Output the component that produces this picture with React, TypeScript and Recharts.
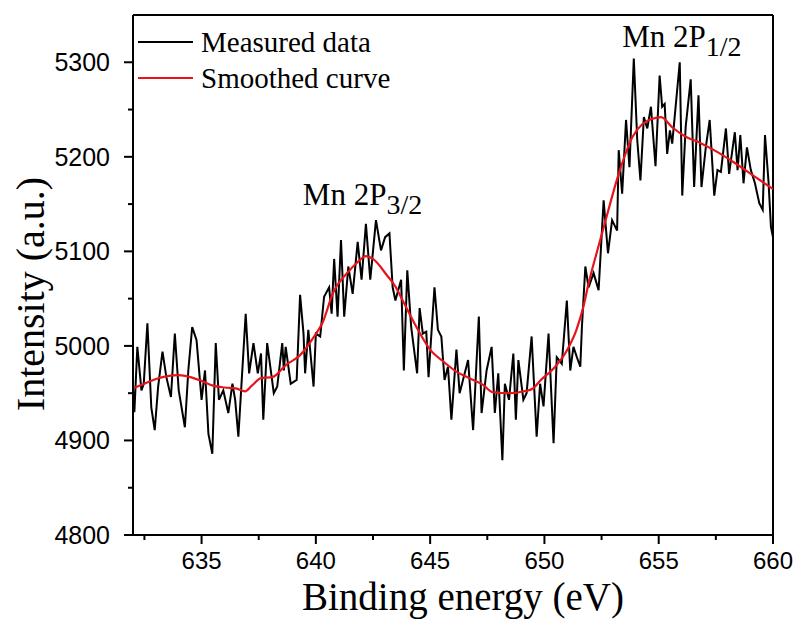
import React from 'react';
import { LineChart, Line, XAxis, YAxis, ReferenceLine, ReferenceDot, Legend } from 'recharts';

const measuredEnergy = [
  632.0, 632.06, 632.19, 632.37, 632.47, 632.63, 632.8, 632.95, 633.1, 633.29,
  633.46, 633.66, 633.83, 634.0, 634.27, 634.42, 634.59, 634.78, 635.0, 635.15,
  635.3, 635.47, 635.62, 635.76, 635.95, 636.17, 636.35, 636.47, 636.61, 636.93,
  637.08, 637.27, 637.46, 637.6, 637.7, 637.87, 638.16, 638.31, 638.53, 638.6,
  638.68, 638.9, 639.16, 639.31, 639.46, 639.53, 639.67, 639.78, 639.9, 640.0,
  640.19, 640.36, 640.58, 640.69, 640.8, 640.95, 641.1, 641.24, 641.42, 641.61,
  641.83, 642.0, 642.19, 642.38, 642.63, 642.85, 643.03, 643.22, 643.36, 643.48,
  643.73, 643.85, 644.0, 644.17, 644.43, 644.54, 644.68, 644.83, 644.93, 645.19,
  645.34, 645.49, 645.63, 645.78, 645.93, 646.15, 646.29, 646.66, 646.88, 647.13,
  647.25, 647.47, 647.69, 647.83, 647.98, 648.16, 648.27, 648.45, 648.64, 648.75,
  648.86, 649.08, 649.22, 649.44, 649.66, 649.81, 649.96, 650.18, 650.4, 650.54,
  650.76, 650.98, 651.13, 651.27, 651.42, 651.57, 651.64, 651.79, 651.93, 652.15,
  652.37, 652.59, 652.78, 652.96, 653.18, 653.25, 653.4, 653.57, 653.72, 653.91,
  654.06, 654.2, 654.35, 654.5, 654.66, 654.86, 655.04, 655.15, 655.26, 655.37,
  655.49, 655.59, 655.74, 655.92, 656.03, 656.18, 656.4, 656.55, 656.74, 656.87,
  657.06, 657.23, 657.43, 657.57, 657.72, 657.94, 658.08, 658.33, 658.45, 658.57,
  658.71, 658.86, 659.03, 659.21, 659.4, 659.55, 659.65, 659.8, 659.91, 660.0,
];

const measuredIntensity = [
  4955, 4930, 4999, 4953, 4960, 5024, 4935, 4911, 4957, 4994,
  4967, 4946, 5013, 4953, 4914, 4974, 5020, 5006, 4943, 4974,
  4907, 4886, 5003, 4943, 4953, 4929, 4960, 4943, 4904, 5034,
  4971, 5003, 4971, 4992, 4922, 5003, 4950, 4957, 5003, 4974,
  4999, 4960, 4964, 5054, 5013, 4971, 5017, 4988, 4957, 5013,
  5010, 5052, 5062, 5034, 5092, 5031, 5112, 5031, 5084, 5055,
  5110, 5070, 5129, 5070, 5133, 5101, 5115, 5119, 5062, 5048,
  5070, 4974, 5080, 5020, 4971, 5040, 5013, 5015, 4967, 5062,
  5017, 5010, 4964, 4978, 4922, 4996, 4950, 4985, 4911, 5031,
  4929, 4974, 4999, 4929, 4971, 4879, 4960, 4943, 4992, 4922,
  4985, 4943, 4950, 5010, 4904, 4960, 4936, 5013, 4897, 4988,
  4981, 5048, 4974, 4999, 4988, 4978, 5020, 5084, 5062, 5077,
  5059, 5154, 5098, 5133, 5122, 5207, 5161, 5239, 5189, 5304,
  5218, 5175, 5242, 5230, 5253, 5190, 5286, 5253, 5256, 5203,
  5228, 5214, 5253, 5300, 5159, 5232, 5282, 5168, 5265, 5168,
  5210, 5239, 5159, 5186, 5184, 5230, 5182, 5226, 5186, 5223,
  5172, 5210, 5186, 5172, 5151, 5144, 5223, 5175, 5126, 5115,
];

const smoothEnergy = [
  632.0, 632.5, 633.0, 633.5, 634.0, 634.5, 635.0, 635.5, 636.0, 636.5,
  636.9, 637.2, 637.6, 638.1, 638.7, 639.3, 639.9, 640.3, 640.75, 641.4,
  641.8, 642.2, 642.5, 643.1, 643.5, 643.8, 644.4, 645.0, 645.6, 646.2,
  646.7, 647.3, 647.75, 648.5, 649.1, 649.5, 649.8, 650.4, 651.0, 651.4,
  651.7, 651.95, 652.35, 652.6, 653.25, 653.85, 654.3, 654.7, 655.1, 655.6,
  656.2, 656.8, 657.5, 658.3, 659.2, 660.0,
];

const smoothIntensity = [
  4955, 4960, 4965, 4968, 4969, 4967, 4963, 4958, 4956, 4955,
  4952, 4958, 4966, 4967, 4980, 4990, 5009, 5025, 5056, 5078,
  5088, 5095, 5092, 5075, 5062, 5048, 5020, 4996, 4983, 4972,
  4966, 4959, 4951, 4950, 4952, 4955, 4963, 4976, 4996, 5017,
  5041, 5068, 5104, 5126, 5182, 5221, 5235, 5240, 5242, 5231,
  5221, 5215, 5206, 5194, 5179, 5166,
];

const xTicks = [632.5, 635, 637.5, 640, 642.5, 645, 647.5, 650, 652.5, 655, 657.5, 660];
const yTicks = [4800, 4850, 4900, 4950, 5000, 5050, 5100, 5150, 5200, 5250, 5300];
const seriesNames = ['Measured data', 'Smoothed curve'];
const seriesColors = ['#000000', '#e8141b'];
const xTitle = 'Binding energy (eV)';
const yTitle = 'Intensity (a.u.)';
const peakLabels = [
  { x: 639.43, y: 5149, main: 'Mn 2P', sub: '3/2' },
  { x: 653.4, y: 5316, main: 'Mn 2P', sub: '1/2' },
];

const measured = measuredEnergy.map((x, i) => ({ x, y: measuredIntensity[i] }));
const smooth = smoothEnergy.map((x, i) => ({ x, y: smoothIntensity[i] }));

const SERIF = '"Liberation Serif", "Times New Roman", serif';
const SANS = '"Liberation Sans", Arial, sans-serif';

const XTick = (props: any) => {
  const { x, y, payload } = props;
  const v = payload.value;
  const major = Math.abs(v % 5) < 1e-6;
  return (
    <g>
      <line x1={x} x2={x} y1={y} y2={y + (major ? 9 : 5)} stroke="#000" strokeWidth={2} />
      {major && (
        <text x={x} y={y + 34} textAnchor="middle" fontFamily={SANS} fontSize={24} fill="#000">
          {v}
        </text>
      )}
    </g>
  );
};

const YTick = (props: any) => {
  const { x, y, payload } = props;
  const v = payload.value;
  const major = v % 100 === 0;
  return (
    <g>
      <line x1={x} x2={x - (major ? 9 : 5)} y1={y} y2={y} stroke="#000" strokeWidth={2} />
      {major && (
        <text x={x - 23} y={y + 9} textAnchor="end" fontFamily={SANS} fontSize={25} fill="#000">
          {v}
        </text>
      )}
    </g>
  );
};

const XTitle = (props: any) => {
  const vb = props.viewBox;
  const cx = vb.x + vb.width / 2 + 10;
  return (
    <text x={cx} y={vb.y + 75} textAnchor="middle" fontFamily={SERIF} fontSize={39} fill="#000">
      {xTitle}
    </text>
  );
};

const YTitle = (props: any) => {
  const vb = props.viewBox;
  const bx = vb.x + 44;
  const cy = vb.y + vb.height / 2 + 19;
  return (
    <text x={bx} y={cy} transform={`rotate(-90, ${bx}, ${cy})`} textAnchor="middle" fontFamily={SERIF} fontSize={40} fill="#000">
      {yTitle}
    </text>
  );
};

const renderLegend = () => (
  <div style={{ fontFamily: SERIF, fontSize: 29, color: '#000' }}>
    {seriesNames.map((n, i) => (
      <div key={n} style={{ display: 'flex', alignItems: 'center', height: 36 }}>
        <svg width={55} height={4} style={{ marginRight: 8 }}>
          <line x1={0} x2={55} y1={2} y2={2} stroke={seriesColors[i]} strokeWidth={2} />
        </svg>
        <span style={{ lineHeight: '36px' }}>{n}</span>
      </div>
    ))}
  </div>
);

const PeakLabel = (p: any, item: any) => (
  <text x={p.cx} y={p.cy} fontFamily={SERIF} fontSize={31} fill="#000">
    {item.main}
    <tspan dy={9} fontSize={28}>{item.sub}</tspan>
  </text>
);

export default function App() {
  return (
    <div style={{ position: 'absolute', left: 0, top: 0, width: 795, height: 619 }}>
      <LineChart width={795} height={619} margin={{ top: 15, right: 22, left: 0, bottom: 0 }}>
        <XAxis
          type="number"
          dataKey="x"
          domain={[632, 660]}
          allowDataOverflow
          ticks={xTicks}
          interval={0}
          tickSize={0}
          tickMargin={0}
          tick={<XTick />}
          height={84}
          axisLine={{ stroke: '#000', strokeWidth: 2 }}
          label={<XTitle />}
        />
        <YAxis
          type="number"
          dataKey="y"
          domain={[4800, 5350]}
          allowDataOverflow
          ticks={yTicks}
          interval={0}
          tickSize={0}
          tickMargin={0}
          tick={<YTick />}
          width={133}
          axisLine={{ stroke: '#000', strokeWidth: 2 }}
          label={<YTitle />}
        />
        <ReferenceLine y={5350} stroke="#000" strokeWidth={2} />
        <ReferenceLine x={660} stroke="#000" strokeWidth={2} />
        <Legend
          layout="horizontal"
          verticalAlign="middle"
          align="center"
          content={renderLegend}
          wrapperStyle={{ position: 'absolute', top: 24, left: 138, width: 320, height: 72 }}
        />
        <Line
          data={measured}
          dataKey="y"
          name={seriesNames[0]}
          type="linear"
          stroke={seriesColors[0]}
          strokeWidth={2}
          dot={false}
          isAnimationActive={false}
        />
        <Line
          data={smooth}
          dataKey="y"
          name={seriesNames[1]}
          type="monotone"
          stroke={seriesColors[1]}
          strokeWidth={2.2}
          dot={false}
          isAnimationActive={false}
        />
        {peakLabels.map((item) => (
          <ReferenceDot
            key={item.sub}
            x={item.x}
            y={item.y}
            r={0}
            shape={(p: any) => PeakLabel(p, item)}
          />
        ))}
      </LineChart>
    </div>
  );
}
